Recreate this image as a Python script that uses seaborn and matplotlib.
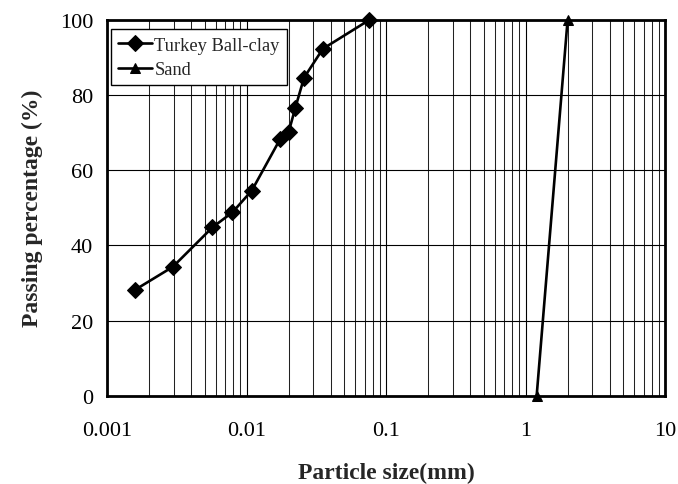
import numpy as np
import pandas as pd
import matplotlib
matplotlib.use("Agg")
import matplotlib.pyplot as plt
import seaborn as sns
from matplotlib.ticker import LogLocator, NullFormatter

# ---- data ----
clay_size = [0.00159, 0.00296, 0.00569, 0.00792, 0.0109, 0.0174, 0.0200, 0.0223, 0.0258, 0.0352, 0.0759]
clay_pass = [28.2, 34.3, 44.8, 48.8, 54.6, 68.3, 70.1, 76.5, 84.6, 92.3, 100.0]
sand_size = [1.2, 2.0]
sand_pass = [0.0, 100.0]
x_ticks = [0.001, 0.01, 0.1, 1, 10]
x_tick_labels = ["0.001", "0.01", "0.1", "1", "10"]
y_ticks = [0, 20, 40, 60, 80, 100]

sns.set_style("white")
plt.rcParams['font.family'] = ['Liberation Serif', 'DejaVu Serif']

fig = plt.figure(figsize=(6.78, 4.85), dpi=100)
ax = fig.add_axes([0.158, 0.182, 0.823, 0.775])

clay_df = pd.DataFrame({"size": clay_size, "pass": clay_pass})
sand_df = pd.DataFrame({"size": sand_size, "pass": sand_pass})

sns.lineplot(data=clay_df, x="size", y="pass", ax=ax, color="black", lw=1.9,
             marker="D", markersize=8, markeredgecolor="black", label="Turkey Ball-clay",
             clip_on=False, zorder=5, sort=False)
sns.lineplot(data=sand_df, x="size", y="pass", ax=ax, color="black", lw=1.9,
             marker="^", markersize=7, markeredgecolor="black", label="Sand",
             clip_on=False, zorder=5, sort=False)

ax.set_xscale("log")
ax.set_xlim(0.001, 10)
ax.set_ylim(0, 100)
ax.set_xticks(x_ticks)
ax.set_xticklabels(x_tick_labels)
ax.xaxis.set_minor_locator(LogLocator(base=10, subs=np.arange(2, 10), numticks=20))
ax.xaxis.set_minor_formatter(NullFormatter())
ax.set_yticks(y_ticks)

ax.grid(True, which="major", axis="both", color="black", lw=0.8)
ax.grid(True, which="minor", axis="x", color="#222222", lw=0.75)
ax.set_axisbelow(True)

ax.tick_params(axis="both", which="major", direction="out", length=5, width=0.8,
               labelsize=16, pad=5, color="black", labelcolor="black")
ax.tick_params(axis="x", which="minor", length=0)
ax.tick_params(axis="x", which="major", pad=13)

for s in ax.spines.values():
    s.set_visible(True)
    s.set_color("black")
    s.set_linewidth(2.0)

ax.set_xlabel("Particle size(mm)", fontsize=17, fontweight="bold", labelpad=16)
ax.set_ylabel("Passing percentage (%)", fontsize=17, fontweight="bold", labelpad=12)

leg = ax.legend(loc="upper left", bbox_to_anchor=(0.007, 0.975), borderaxespad=0,
                fontsize=13.3, frameon=True, fancybox=False, handlelength=1.8,
                handletextpad=0.15, borderpad=0.4, labelspacing=0.4)
leg.get_frame().set_edgecolor("black")
leg.get_frame().set_linewidth(1.0)
leg.get_frame().set_alpha(1)

fig.savefig("out.png", dpi=100)
